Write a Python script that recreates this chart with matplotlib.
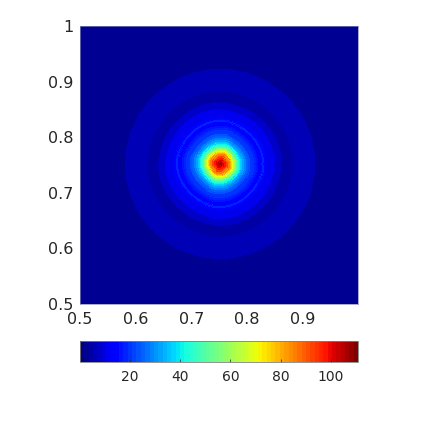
import matplotlib
matplotlib.use("Agg")
import matplotlib.pyplot as plt
import numpy as np

# rings of the spot, outer radius of each one in data units
ring_radius = [0.0036, 0.0072, 0.0108, 0.0144, 0.018, 0.0198, 0.0216, 0.0234, 0.0252, 0.027,
               0.0288, 0.0306, 0.0324, 0.0342, 0.036, 0.0378, 0.0396, 0.0432, 0.0468, 0.0504,
               0.054, 0.0576, 0.0612, 0.0648, 0.0684, 0.072, 0.0756, 0.0792, 0.0846, 0.099,
               0.1116, 0.1314, 0.1692]
ring_value = [106, 101, 97, 92, 86, 81, 76, 71, 66, 61,
              57, 52, 48, 45, 41, 38, 36, 33, 29, 26,
              23, 21, 19.5, 18, 17, 14, 13, 18, 13, 11,
              7.5, 4, 6.5]
x_ticks = [0.5, 0.6, 0.7, 0.8, 0.9]
y_ticks = [0.5, 0.6, 0.7, 0.8, 0.9, 1]
y_labels = ["0.5", "0.6", "0.7", "0.8", "0.9", "1"]
bar_ticks = [20, 40, 60, 80, 100]
center = 0.752
vmin, vmax = 0.3, 110.7

fig = plt.figure(figsize=(4.23, 4.23), dpi=100)
ax = fig.add_axes([80 / 423, 1 - 304 / 423, 278 / 423, 278 / 423])
cax = fig.add_axes([80 / 423, 1 - 362 / 423, 278 / 423, 21 / 423])

cmap = plt.get_cmap("jet", 64)

ax.set_facecolor(cmap(1))
edges = np.array([0] + ring_radius)
theta = np.linspace(0, 2 * np.pi, 361)
rr, tt = np.meshgrid(edges, theta)
# inner rings are a bit diamond shaped
rr = rr * (1 + 0.06 * np.exp(-rr / 0.03) * np.cos(4 * tt))
xx = center + rr * np.cos(tt)
yy = center + rr * np.sin(tt)
vals = np.tile(np.array(ring_value), (360, 1))
pc = ax.pcolormesh(xx, yy, vals, cmap=cmap, vmin=vmin, vmax=vmax, shading="flat",
                   edgecolors="face", linewidth=0.2)

ax.set_xlim(0.5, 1)
ax.set_ylim(0.5, 1)
ax.set_xticks(x_ticks)
ax.set_yticks(y_ticks)
ax.set_yticklabels(y_labels)
ax.tick_params(axis="x", direction="in", length=0, labelsize=11.5, colors="#262626", pad=6)
ax.tick_params(axis="y", direction="in", length=0, labelsize=11.5, colors="#262626", pad=5)
for s in ax.spines.values():
    s.set_color("#8888bb")
    s.set_linewidth(0.5)

cb = fig.colorbar(pc, cax=cax, orientation="horizontal", ticks=bar_ticks)
cb.ax.tick_params(direction="in", length=2, width=0.5, labelsize=10, colors="#262626", pad=6)
cb.outline.set_edgecolor("#808080")
cb.outline.set_linewidth(0.6)

fig.savefig("out.png", dpi=100)
